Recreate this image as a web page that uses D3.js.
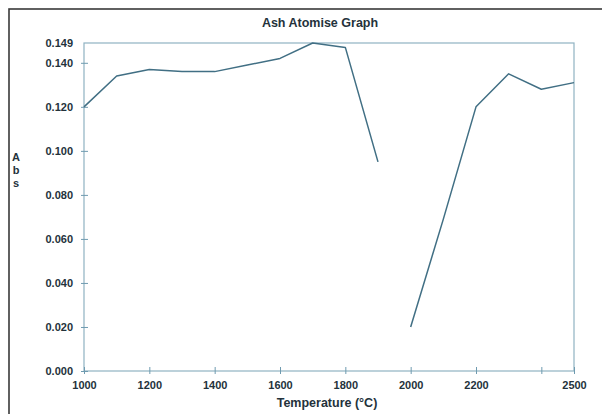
<!DOCTYPE html>
<html lang="en">
<head>
    <meta charset="UTF-8">
    <title>Ash Atomise Graph</title>
    <script src="https://d3js.org/d3.v7.min.js"></script>
    <style>
        body { margin: 0; background: #fff; font-family: Arial, "Liberation Sans", sans-serif; }
        .lbl { font-size: 11px; font-weight: bold; fill: #24323b; }
        .big { font-size: 12.5px; }
    </style>
</head>
<body>
    <div id="chart"></div>
    <script>
        // readings before and after the gap
        const tempsLow = [1000, 1100, 1200, 1300, 1400, 1500, 1600, 1700, 1800, 1900];
        const absLow   = [0.120, 0.134, 0.137, 0.136, 0.136, 0.139, 0.142, 0.149, 0.147, 0.095];
        const tempsHigh = [2000, 2100, 2200, 2300, 2400, 2500];
        const absHigh   = [0.020, 0.069, 0.120, 0.135, 0.128, 0.131];

        const xTicks = [1000, 1200, 1400, 1600, 1800, 2000, 2200, 2400, 2500];
        const xLabels = [1000, 1200, 1400, 1600, 1800, 2000, 2200, 2500];
        const yTicks = [0, 0.02, 0.04, 0.06, 0.08, 0.10, 0.12, 0.14];
        const yMax = 0.149;

        const W = 602, H = 414;
        const margin = {top: 43, right: 28, bottom: 43, left: 84};
        const width = W - margin.left - margin.right,
              height = H - margin.top - margin.bottom;

        const svg = d3.select("#chart").append("svg")
            .attr("width", W)
            .attr("height", H);

        // outer frame (only top and left edges show)
        svg.append("rect")
            .attr("x", 9).attr("y", 9)
            .attr("width", 700).attr("height", 500)
            .attr("fill", "none")
            .attr("stroke", "#3a3a3a")
            .attr("stroke-width", 1.6);

        const g = svg.append("g")
            .attr("transform", `translate(${margin.left},${margin.top})`);

        const x = d3.scaleLinear().domain([1000, 2500]).range([0, width]);
        const y = d3.scaleLinear().domain([0, yMax]).range([height, 0]);

        g.append("rect")
            .attr("width", width).attr("height", height)
            .attr("fill", "none")
            .attr("stroke", "#8fb2c2")
            .attr("stroke-width", 1.2);

        const xAxis = g.append("g")
            .attr("transform", `translate(0,${height})`)
            .call(d3.axisBottom(x).tickValues(xTicks).tickSizeOuter(0)
                .tickFormat(d => xLabels.includes(d) ? d : ""));
        const yAxis = g.append("g")
            .call(d3.axisLeft(y).tickValues(yTicks).tickSizeOuter(0)
                .tickFormat(d3.format(".3f")));

        [xAxis, yAxis].forEach(a => {
            a.select(".domain").remove();
            a.selectAll(".tick line").attr("stroke", "#6f9bb0");
            a.selectAll("text").attr("class", "lbl").attr("font-size", null)
                .attr("font-family", null).attr("fill", null);
        });
        xAxis.selectAll(".tick line").attr("y1", -4).attr("y2", 3);
        xAxis.selectAll("text").attr("y", 10).attr("dy", "0.71em");
        yAxis.selectAll(".tick line").attr("x1", -3).attr("x2", 4);
        yAxis.selectAll("text").attr("x", -11);

        g.append("text")
            .attr("class", "lbl")
            .attr("x", -11).attr("y", y(yMax))
            .attr("dy", "0.32em")
            .attr("text-anchor", "end")
            .text(d3.format(".3f")(yMax));

        const line = d3.line()
            .x(d => x(d[0]))
            .y(d => y(d[1]));

        [[tempsLow, absLow], [tempsHigh, absHigh]].forEach(([t, v]) => {
            g.append("path")
                .datum(t.map((d, i) => [d, v[i]]))
                .attr("fill", "none")
                .attr("stroke", "#416f84")
                .attr("stroke-width", 1.5)
                .attr("stroke-linejoin", "round")
                .attr("d", line);
        });

        svg.append("text")
            .attr("class", "lbl big")
            .attr("x", 320).attr("y", 27)
            .attr("text-anchor", "middle")
            .text("Ash Atomise Graph");

        svg.append("text")
            .attr("class", "lbl big")
            .attr("x", 327).attr("y", 407)
            .attr("text-anchor", "middle")
            .text("Temperature (°C)");

        ["A", "b", "s"].forEach((c, i) => {
            svg.append("text")
                .attr("class", "lbl")
                .attr("x", 16).attr("y", 161 + i * 13)
                .attr("text-anchor", "middle")
                .text(c);
        });
    </script>
</body>
</html>
